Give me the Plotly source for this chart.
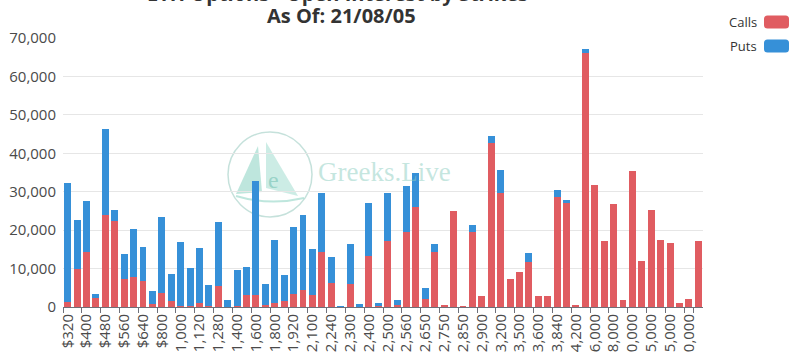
import plotly.graph_objects as go

strikes = ["$320", "$360", "$400", "$440", "$480", "$520", "$560", "$600", "$640", "$720",
           "$800", "$880", "$1,000", "$1,040", "$1,120", "$1,200", "$1,280", "$1,360", "$1,400", "$1,500",
           "$1,600", "$1,700", "$1,800", "$1,900", "$1,920", "$2,000", "$2,100", "$2,200", "$2,240", "$2,250",
           "$2,300", "$2,350", "$2,400", "$2,450", "$2,500", "$2,550", "$2,560", "$2,600", "$2,650", "$2,700",
           "$2,750", "$2,800", "$2,850", "$2,880", "$2,900", "$3,000", "$3,200", "$3,400", "$3,500", "$3,520",
           "$3,600", "$3,800", "$3,840", "$4,000", "$4,200", "$5,000", "$6,000", "$7,000", "$8,000", "$9,000",
           "$10,000", "$12,000", "$15,000", "$20,000", "$25,000", "$30,000", "$40,000", "$50,000"]

calls = [1400, 9800, 14400, 2430, 23900, 22380, 7200, 7700, 6850, 780,
         3560, 1560, 260, 260, 950, 200, 5550, 0, 200, 3100,
         3000, 520, 950, 1560, 3470, 4420, 3120, 14400, 6160, 100,
         5900, 100, 13270, 200, 17260, 500, 19600, 26100, 2000, 14230,
         520, 24890, 170, 19510, 2860, 42590, 29580, 7370, 9190, 11790,
         2860, 2860, 28540, 27140, 520, 66180, 31740, 17170, 26800, 1730,
         35300, 12050, 25320, 17430, 16650, 1130, 2000, 17170]

puts = [30940, 12840, 13100, 950, 22500, 2860, 6590, 12600, 8680, 3380,
        19770, 6940, 16740, 9800, 14490, 5520, 16480, 1910, 9430, 7390,
        29860, 5380, 16480, 6850, 17430, 19600, 11970, 15340, 6760, 160,
        10490, 590, 13790, 750, 12480, 1320, 11880, 8850, 3030, 2160,
        0, 0, 0, 1740, 0, 1900, 6070, 0, 0, 2340,
        0, 0, 1900, 700, 0, 870, 0, 0, 0, 0,
        0, 0, 0, 0, 0, 0, 0, 0]

tick_labels = strikes[::2]

CALL_COLOR = "#e05c61"
PUT_COLOR = "#3690d8"
FONT = "Open Sans"

W, H = 799, 352
X0, X1, YB, YT = 63, 703, 307, 38


def px(x):
    return (x - X0) / (X1 - X0)


def py(y):
    return (YB - y) / (YB - YT)


fig = go.Figure()
fig.add_trace(go.Bar(x=strikes, y=calls, name="Calls", marker_color=CALL_COLOR,
                     marker_line_width=0))
fig.add_trace(go.Bar(x=strikes, y=puts, name="Puts", marker_color=PUT_COLOR,
                     marker_line_width=0))

shapes = []
annotations = []

# watermark (decorative)
shapes.append(dict(type="circle", xref="paper", yref="paper",
                   x0=px(228), x1=px(312), y0=py(217), y1=py(132),
                   line=dict(color="rgba(150,200,190,0.55)", width=1.5), layer="below"))
shapes.append(dict(type="path", xref="paper", yref="paper", layer="below",
                   path=f"M {px(236)} {py(194)} L {px(258)} {py(146)} L {px(262)} {py(192)} Z",
                   fillcolor="rgba(110,200,180,0.45)", line=dict(width=0)))
shapes.append(dict(type="path", xref="paper", yref="paper", layer="below",
                   path=f"M {px(266)} {py(142)} L {px(298)} {py(196)} L {px(266)} {py(188)} Z",
                   fillcolor="rgba(110,200,180,0.35)", line=dict(width=0)))
shapes.append(dict(type="path", xref="paper", yref="paper", layer="below",
                   path=f"M {px(236)} {py(196)} Q {px(270)} {py(206)} {px(304)} {py(198)}",
                   line=dict(color="rgba(110,200,180,0.45)", width=2)))
annotations.append(dict(text="e", xref="paper", yref="paper", x=px(266), y=py(180),
                        showarrow=False, font=dict(family="Liberation Serif", size=24,
                                                   color="rgba(110,190,175,0.55)")))
annotations.append(dict(text="Greeks.Live", xref="paper", yref="paper", x=px(316), y=py(172),
                        xanchor="left", yanchor="middle", showarrow=False,
                        font=dict(family="Liberation Serif", size=27,
                                  color="rgba(140,205,192,0.5)")))

# title
annotations.append(dict(text="<b>ETH Options - Open Interest by Strikes</b>", xref="paper", yref="paper",
                        x=px(337), y=py(-6.5), xanchor="center", yanchor="middle", showarrow=False,
                        font=dict(family=FONT, size=20, color="#333333")))
annotations.append(dict(text="<b>As Of: 21/08/05</b>", xref="paper", yref="paper",
                        x=px(341), y=py(15.5), xanchor="center", yanchor="middle", showarrow=False,
                        font=dict(family=FONT, size=20, color="#333333")))

# custom legend (text left of swatch)
for i, (name, col) in enumerate([("Calls", CALL_COLOR), ("Puts", PUT_COLOR)]):
    yc = 22 + 24 * i
    x0s, x1s, y0s, y1s, r = 764, 789, yc - 6.5, yc + 6.5, 3.5
    path = (f"M {px(x0s + r)} {py(y0s)} L {px(x1s - r)} {py(y0s)} "
            f"Q {px(x1s)} {py(y0s)} {px(x1s)} {py(y0s + r)} L {px(x1s)} {py(y1s - r)} "
            f"Q {px(x1s)} {py(y1s)} {px(x1s - r)} {py(y1s)} L {px(x0s + r)} {py(y1s)} "
            f"Q {px(x0s)} {py(y1s)} {px(x0s)} {py(y1s - r)} L {px(x0s)} {py(y0s + r)} "
            f"Q {px(x0s)} {py(y0s)} {px(x0s + r)} {py(y0s)} Z")
    shapes.append(dict(type="path", xref="paper", yref="paper", path=path,
                       fillcolor=col, line=dict(width=0)))
    annotations.append(dict(text=name, xref="paper", yref="paper", x=px(759), y=py(yc),
                            xanchor="right", yanchor="middle", showarrow=False,
                            font=dict(family=FONT, size=13, color="#333333")))

fig.update_layout(
    width=W, height=H,
    barmode="stack", bargap=0.26,
    showlegend=False,
    plot_bgcolor="white", paper_bgcolor="white",
    margin=dict(l=X0, r=W - X1, t=YT, b=H - YB, autoexpand=False),
    font=dict(family=FONT, color="#4a4a4a"),
    shapes=shapes, annotations=annotations,
)
fig.update_xaxes(type="category", tickmode="array", tickvals=tick_labels, ticktext=tick_labels,
                 tickangle=-90, tickfont=dict(size=15, color="#4a4a4a"),
                 showline=True, linecolor="#6e7079", linewidth=1,
                 ticks="outside", ticklen=5, tickcolor="#6e7079", tickson="boundaries",
                 showgrid=False, automargin=False)
fig.update_yaxes(range=[0, 70000], tickvals=[0, 10000, 20000, 30000, 40000, 50000, 60000, 70000],
                 tickformat=",d", tickfont=dict(size=15, color="#4a4a4a"),
                 showgrid=True, gridcolor="#e6e6e6", gridwidth=1, zeroline=False,
                 showline=False, ticks="", ticklabelstandoff=6, automargin=False)

fig.write_html("out.html")
